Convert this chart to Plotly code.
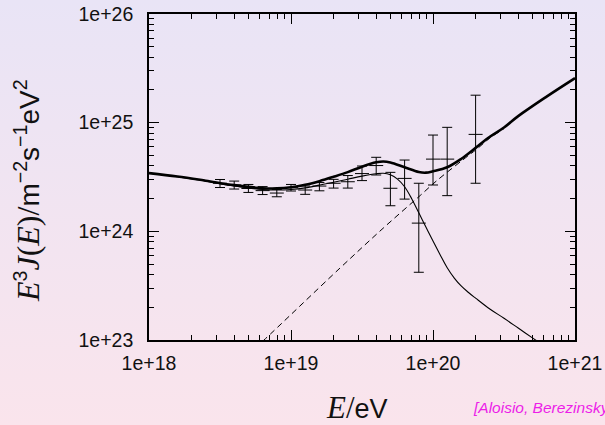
import plotly.graph_objects as go

# ---------------- data ----------------
# measured points: log10(E/eV), E^3 J centre, upper and lower error ends
pts_logE = [18.5, 18.6, 18.7, 18.8, 18.9, 19.0, 19.1, 19.2, 19.3, 19.4, 19.5, 19.6,
            19.7, 19.8, 19.9, 20.0, 20.1, 20.3]
pts_val = [2.77e24, 2.67e24, 2.48e24, 2.37e24, 2.25e24, 2.52e24, 2.40e24, 2.61e24, 2.77e24,
           2.86e24, 3.40e24, 4.03e24, 2.49e24, 3.07e24, 1.19e24, 4.62e24, 4.62e24, 7.80e24]
pts_hi = [3.00e24, 2.90e24, 2.70e24, 2.58e24, 2.43e24, 2.70e24, 2.61e24, 2.81e24, 3.01e24,
          3.26e24, 3.99e24, 4.80e24, 3.49e24, 4.53e24, 2.77e24, 7.69e24, 9.06e24, 1.79e25]
pts_lo = [2.53e24, 2.45e24, 2.28e24, 2.18e24, 2.08e24, 2.35e24, 2.19e24, 2.36e24, 2.50e24,
          2.50e24, 2.93e24, 3.30e24, 1.72e24, 1.98e24, 4.20e23, 2.67e24, 2.13e24, 2.77e24]

# total model (thick line): log10(E/eV), log10(E^3 J)
tot_logE = [18.0, 18.2, 18.4, 18.6, 18.8, 18.9, 19.0, 19.1, 19.2, 19.3, 19.4, 19.5, 19.6,
            19.65, 19.7, 19.8, 19.9, 19.95, 20.0, 20.1, 20.2, 20.3, 20.4, 20.5, 20.6, 20.8, 21.0]
tot_logJ = [24.536, 24.505, 24.466, 24.425, 24.397, 24.395, 24.405, 24.428, 24.462, 24.502,
            24.545, 24.595, 24.635, 24.643, 24.634, 24.59, 24.546, 24.540, 24.553, 24.59,
            24.668, 24.768, 24.87, 24.955, 25.06, 25.24, 25.41]

# first component (thin line)
c1_logE = [18.0, 18.2, 18.4, 18.6, 18.8, 18.9, 19.0, 19.1, 19.2, 19.3, 19.4, 19.5, 19.6,
           19.65, 19.7, 19.75, 19.8, 19.85, 19.9, 19.95, 20.0, 20.05, 20.1, 20.15, 20.2,
           20.25, 20.3, 20.4, 20.5, 20.6, 20.7, 20.8]
c1_logJ = [24.535, 24.503, 24.462, 24.418, 24.385, 24.380, 24.385, 24.400, 24.425, 24.452,
           24.480, 24.508, 24.530, 24.534, 24.520, 24.480, 24.410, 24.300, 24.170, 24.040,
           23.910, 23.785, 23.665, 23.570, 23.495, 23.437, 23.385, 23.285, 23.200, 23.110,
           23.020, 22.930]

# second component (dashed line)
c2_logE = [18.75, 18.81, 19.345, 19.65, 19.91, 20.03, 20.26, 20.31, 20.4, 20.5]
c2_logJ = [22.93, 23.0, 23.662, 24.03, 24.33, 24.47, 24.708, 24.758, 24.858, 24.945]

x_tickvals = [1e18, 1e19, 1e20, 1e21]
x_ticktext = ["1e+18", "1e+19", "1e+20", "1e+21"]
y_tickvals = [1e23, 1e24, 1e25, 1e26]
y_ticktext = ["1e+23", "1e+24", "1e+25", "1e+26"]

# ---------------------------------------------------------------------------
def p10(v):
    return [10.0 ** a for a in v]

pts_E = p10(pts_logE)
err_plus = [h - c for h, c in zip(pts_hi, pts_val)]
err_minus = [c - l for c, l in zip(pts_val, pts_lo)]

fig = go.Figure()

fig.add_trace(go.Scatter(x=p10(c2_logE), y=p10(c2_logJ), mode="lines",
                         line=dict(color="black", width=1, dash="6px,4px", shape="spline"),
                         hoverinfo="skip"))
fig.add_trace(go.Scatter(x=p10(c1_logE), y=p10(c1_logJ), mode="lines",
                         line=dict(color="black", width=1.1, shape="spline", smoothing=1.0),
                         hoverinfo="skip"))
fig.add_trace(go.Scatter(x=pts_E, y=pts_val, mode="markers",
                         marker=dict(symbol="line-ew", size=10, color="black",
                                     line=dict(color="black", width=1)),
                         error_y=dict(type="data", symmetric=False, array=err_plus,
                                      arrayminus=err_minus, thickness=1, width=5,
                                      color="black")))
fig.add_trace(go.Scatter(x=p10(tot_logE), y=p10(tot_logJ), mode="lines",
                         line=dict(color="black", width=2.6, shape="spline"),
                         hoverinfo="skip"))

minor_x = [float(m) * 10.0 ** d for d in range(18, 21) for m in range(2, 10)]
minor_y = [float(m) * 10.0 ** d for d in range(23, 26) for m in range(2, 10)]

tickfont = dict(family="Liberation Sans, Arial, sans-serif", size=19.5, color="#111111")

fig.update_xaxes(type="log", range=[18, 21], tickmode="array", tickvals=x_tickvals,
                 ticktext=x_ticktext, ticks="inside", ticklen=10, tickwidth=1.2,
                 tickcolor="black", showline=True, linecolor="black", linewidth=1.6,
                 mirror="ticks", showgrid=False, zeroline=False, tickfont=tickfont,
                 automargin=False, ticklabelstandoff=5,
                 minor=dict(tickmode="array", tickvals=minor_x, ticks="inside", ticklen=5,
                            tickwidth=1, tickcolor="black", showgrid=False))
fig.update_yaxes(type="log", range=[23, 26], tickmode="array", tickvals=y_tickvals,
                 ticktext=y_ticktext, ticks="inside", ticklen=10, tickwidth=1.2,
                 tickcolor="black", showline=True, linecolor="black", linewidth=1.6,
                 mirror="ticks", showgrid=False, zeroline=False, tickfont=tickfont,
                 automargin=False, ticklabelstandoff=10,
                 minor=dict(tickmode="array", tickvals=minor_y, ticks="inside", ticklen=5,
                            tickwidth=1, tickcolor="black", showgrid=False))

L, R, T, B = 149, 30, 14, 85
W, H = 605, 425
pw, ph = W - L - R, H - T - B

grad_svg = ("data:image/svg+xml;utf8,"
            "<svg xmlns='http://www.w3.org/2000/svg' width='605' height='425' "
            "preserveAspectRatio='none'>"
            "<defs><linearGradient id='g' x1='0' y1='0' x2='0' y2='1'>"
            "<stop offset='0' stop-color='%23E9E4F6'/>"
            "<stop offset='1' stop-color='%23FAE4EC'/>"
            "</linearGradient></defs>"
            "<rect width='605' height='425' fill='url(%23g)'/></svg>")

serif = "Liberation Serif, DejaVu Serif, serif"
sans = "Liberation Sans, Arial, sans-serif"
sfy = f"font-family:{serif};font-size:32px"
sfx = f"font-family:{serif};font-size:31px"
ytitle = (f"<span style='{sfy}'><i>E</i></span><sup>3</sup>"
          f"<span style='{sfy}'><i>J</i>(<i>E</i>)/</span>"
          "m<sup>−2</sup>s<sup>−1</sup>eV<sup>2</sup>")
xtitle = f"<span style='{sfx}'><i>E</i>/</span>eV"

fig.update_layout(
    width=W, height=H,
    margin=dict(l=L, r=R, t=T, b=B, pad=0, autoexpand=False),
    paper_bgcolor="rgba(0,0,0,0)", plot_bgcolor="rgba(0,0,0,0)",
    showlegend=False,
    images=[dict(source=grad_svg, xref="paper", yref="paper",
                 x=-L / pw, y=1 + T / ph, sizex=W / pw, sizey=H / ph,
                 xanchor="left", yanchor="top", sizing="stretch", layer="below")],
    annotations=[
        dict(text=ytitle, textangle=-90, xref="paper", yref="paper",
             x=(27 - L) / pw, y=(H - B - 190) / ph, xanchor="center", yanchor="middle",
             showarrow=False, font=dict(family=sans, size=28, color="#111111")),
        dict(text=xtitle, xref="paper", yref="paper",
             x=(357 - L) / pw, y=(H - B - 407) / ph, xanchor="center", yanchor="middle",
             showarrow=False, font=dict(family=sans, size=27, color="#111111")),
        dict(text="<i>[Aloisio, Berezinsky et al.]</i>", xref="paper", yref="paper",
             x=(471 - L) / pw, y=(H - B - 408) / ph, xanchor="left", yanchor="middle",
             showarrow=False, font=dict(family=sans, size=15.5, color="#EC1EE8")),
    ],
)

fig.write_html("out.html", config={"displayModeBar": False},
               post_script="document.body.style.margin='0px';")
